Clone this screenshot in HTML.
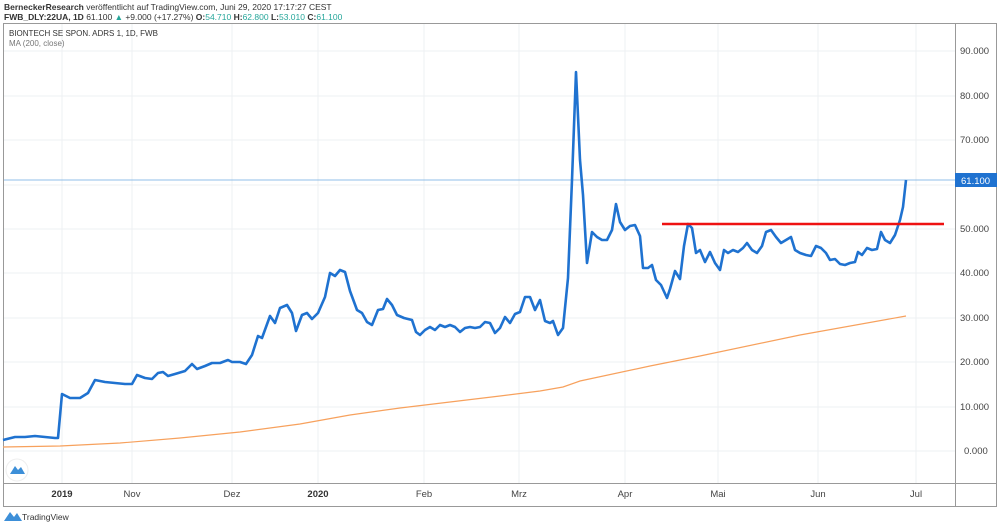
<!DOCTYPE html><html><head><style>body{margin:0;background:#fff;font-family:"Liberation Sans",sans-serif}</style></head><body>
<svg width="1000" height="526" xmlns="http://www.w3.org/2000/svg" font-family="Liberation Sans, sans-serif">
<rect width="1000" height="526" fill="#fff"/>
<text x="4" y="10" font-size="8.5" fill="#333"><tspan font-weight="bold">BerneckerResearch</tspan> veröffentlicht auf TradingView.com, Juni 29, 2020 17:17:27 CEST</text>
<text x="4" y="20" font-size="8.5" fill="#333"><tspan font-weight="bold">FWB_DLY:22UA, 1D</tspan> 61.100 <tspan fill="#26a69a">▲</tspan> +9.000 (+17.27%) <tspan font-weight="bold">O:</tspan><tspan fill="#26a69a">54.710</tspan> <tspan font-weight="bold">H:</tspan><tspan fill="#26a69a">62.800</tspan> <tspan font-weight="bold">L:</tspan><tspan fill="#26a69a">53.010</tspan> <tspan font-weight="bold">C:</tspan><tspan fill="#26a69a">61.100</tspan></text>
<rect x="3.5" y="23.5" width="993" height="483" fill="none" stroke="#999"/>
<line x1="3" y1="483.5" x2="997" y2="483.5" stroke="#999"/>
<line x1="955.5" y1="23" x2="955.5" y2="507" stroke="#999"/>
<g stroke="#eef0f3">
<line x1="62" y1="24" x2="62" y2="483"/><line x1="132" y1="24" x2="132" y2="483"/><line x1="232" y1="24" x2="232" y2="483"/><line x1="318" y1="24" x2="318" y2="483"/><line x1="424" y1="24" x2="424" y2="483"/><line x1="519" y1="24" x2="519" y2="483"/><line x1="625" y1="24" x2="625" y2="483"/><line x1="718" y1="24" x2="718" y2="483"/><line x1="818" y1="24" x2="818" y2="483"/><line x1="916" y1="24" x2="916" y2="483"/>
<line x1="4" y1="51" x2="955" y2="51"/><line x1="4" y1="96" x2="955" y2="96"/><line x1="4" y1="140" x2="955" y2="140"/><line x1="4" y1="185" x2="955" y2="185"/><line x1="4" y1="229" x2="955" y2="229"/><line x1="4" y1="273" x2="955" y2="273"/><line x1="4" y1="318" x2="955" y2="318"/><line x1="4" y1="362" x2="955" y2="362"/><line x1="4" y1="407" x2="955" y2="407"/><line x1="4" y1="451" x2="955" y2="451"/>
</g>
<g font-size="9.5" fill="#444">
<text x="960" y="54">90.000</text><text x="960" y="99">80.000</text><text x="960" y="143">70.000</text><text x="960" y="232">50.000</text><text x="960" y="276">40.000</text><text x="960" y="321">30.000</text><text x="960" y="365">20.000</text><text x="960" y="410">10.000</text><text x="964" y="454">0.000</text>
</g>
<g font-size="9.5" fill="#444" text-anchor="middle">
<text x="62" y="497" font-weight="bold" fill="#333">2019</text><text x="132" y="497">Nov</text><text x="232" y="497">Dez</text><text x="318" y="497" font-weight="bold" fill="#333">2020</text><text x="424" y="497">Feb</text><text x="519" y="497">Mrz</text><text x="625" y="497">Apr</text><text x="718" y="497">Mai</text><text x="818" y="497">Jun</text><text x="916" y="497">Jul</text>
</g>
<text x="9" y="36" font-size="8" fill="#333">BIONTECH SE SPON. ADRS 1, 1D, FWB</text>
<text x="9" y="46" font-size="8" fill="#777">MA (200, close)</text>
<line x1="4" y1="180" x2="955" y2="180" stroke="#90bfe8" stroke-width="1"/>
<polyline fill="none" stroke="#f7a15d" stroke-width="1.2" points="3,447 60,446 120,443 180,438 240,432 300,424 350,415 400,408 450,402 500,396 540,391 563,387 580,381 650,366 700,356 800,335 906,316"/>
<polyline fill="none" stroke="#1f72d0" stroke-width="2.6" stroke-linejoin="round" points="3,440 15,437 25,437 35,436 45,437 55,438 58,438 62,394 70,398 80,398 88,393 95,380 105,382 115,383 125,384 132,384 137,375 145,378 152,379 158,373 163,372 168,376 175,374 185,371 192,364 197,369 205,366 212,363 220,363 228,360 232,362 240,362 246,364 252,355 258,336 262,338 270,316 275,323 280,308 287,305 292,313 296,331 302,315 307,313 312,319 318,313 325,297 330,273 335,276 340,270 345,272 350,291 357,310 362,313 367,322 372,325 378,310 383,309 387,299 392,305 397,315 404,318 412,320 416,332 420,335 425,330 430,327 435,330 440,325 445,327 450,325 455,327 460,332 465,328 470,327 475,328 480,327 485,322 490,323 495,333 500,328 505,317 510,323 515,314 520,312 525,297 530,297 535,310 540,300 545,321 550,323 553,321 558,335 563,328 568,278 572,180 576,72 580,160 583,195 587,263 592,232 597,237 602,240 607,240 612,230 616,204 620,222 625,230 630,226 635,225 640,236 643,268 648,268 652,265 656,280 661,285 667,298 670,289 675,271 680,279 684,246 688,224 692,228 696,253 700,250 705,262 710,252 715,263 720,270 724,250 728,253 733,250 738,252 743,248 747,243 752,250 757,253 762,246 766,232 771,230 776,237 781,243 786,240 791,237 795,250 800,253 806,255 811,256 816,246 821,248 826,253 830,260 835,259 840,264 845,265 850,263 855,262 858,252 862,255 867,248 872,250 877,249 881,232 885,240 890,243 895,235 900,220 903,207 906,180"/>
<line x1="662" y1="224" x2="944" y2="224" stroke="#ee1111" stroke-width="2.6"/>
<rect x="955" y="173" width="42" height="14" fill="#1f72d0"/>
<text x="961" y="184" font-size="9.5" fill="#fff">61.100</text>
<circle cx="17" cy="470" r="11" fill="#fff" stroke="#eee"/>
<path d="M10,474 L15,466 L18,470 L21,467 L25,474 Z" fill="#3d8fd8"/>
<path d="M4,521 L10,512 L14,517 L17,513 L22,521 Z" fill="#3d8fd8"/>
<text x="22" y="520" font-size="8.5" fill="#333">TradingView</text>
</svg></body></html>
